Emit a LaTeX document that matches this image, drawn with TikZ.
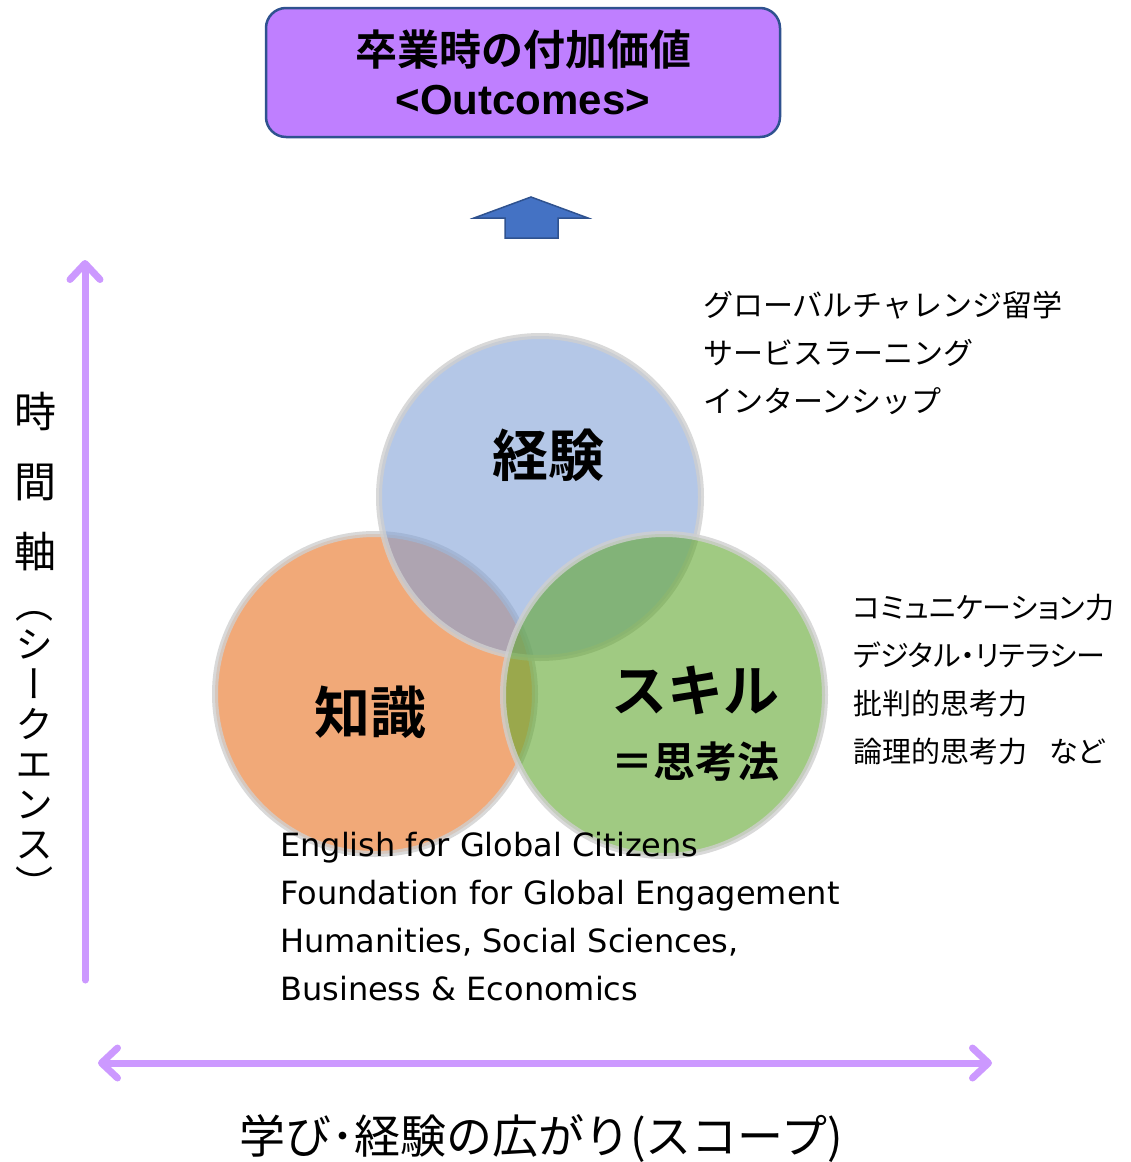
\documentclass[tikz,border=0pt]{standalone}
\usepackage{fontspec}
\usetikzlibrary{arrows.meta}
\newfontfamily\jp{Noto Sans CJK JP}[BoldFont={Noto Sans CJK JP Bold}]
\newfontfamily\jpp{Noto Sans CJK JP}[RawFeature=+palt]
\newfontfamily\jpv{Noto Sans CJK JP}[RawFeature=+vert]
\newfontfamily\en{DejaVu Sans}
\newfontfamily\arialfont{Liberation Sans}
\definecolor{outfill}{RGB}{191,127,255}
\definecolor{outedge}{RGB}{47,82,143}
\definecolor{axis}{RGB}{204,153,255}
\definecolor{uparrow}{RGB}{68,114,196}
\definecolor{expfill}{RGB}{130,162,215}
\definecolor{knowfill}{RGB}{232,112,30}
\definecolor{skillfill}{RGB}{97,167,47}
\definecolor{ringgray}{RGB}{207,207,207}
\tikzset{
    barb/.tip={Straight Barb[round, length=16pt, width=30pt]},
    axisarrow/.style={line width=7pt, draw=axis, line cap=round, -barb},
    outbox/.style={rectangle, rounded corners=20pt, fill=outfill, draw=outedge, line width=2.5pt,
        minimum width=514pt, minimum height=129pt, align=center, font=\fontsize{42}{49}\selectfont},
    ring/.style={line width=6pt, draw=ringgray, draw opacity=0.8, fill opacity=0.6},
    bigword/.style={inner sep=0pt, font=\jp\bfseries\fontsize{56}{60}\selectfont},
    listtext/.style={anchor=base west, inner sep=0pt, font=\jp\fontsize{30}{36}\selectfont},
    skilltext/.style={anchor=base west, inner sep=0pt, font=\jpp\fontsize{29}{34}\selectfont},
    coursetext/.style={anchor=base west, inner sep=0pt, font=\en\fontsize{32}{36}\selectfont},
    vtext/.style={align=center, inner sep=0pt}
}
\begin{document}
\begin{tikzpicture}[x=1pt, y=-1pt]
    \useasboundingbox (0,0) rectangle (1130,1162);
    \node[outbox] (outcome) at (523,72.5) {{\jp\bfseries 卒業時の付加価値}\\{\arialfont\bfseries <Outcomes>}};
    \filldraw[fill=uparrow, draw=outedge, line width=1.5pt] (505,238) -- (505,218) -- (474,218) -- (531,197)
        -- (588,218) -- (558,218) -- (558,238) -- cycle;

    \filldraw[ring, fill=knowfill] (375,694) circle[radius=160];
    \filldraw[ring, fill=expfill] (540,497) circle[radius=161];
    \filldraw[ring, fill=skillfill] (664,695) circle[radius=161];
    \node[bigword] (exptitle) at (548,455) {経験};
    \node[bigword] (knowtitle) at (370,712) {知識};
    \node[bigword] (skilltitle) at (695,690) {スキル};
    \node[inner sep=0pt, font=\jp\bfseries\fontsize{42}{44}\selectfont] (skillnote) at (695,762) {＝思考法};

    \foreach \t [count=\i] in {グローバルチャレンジ留学,サービスラーニング,インターンシップ}{
        \node[listtext] (exp\i) at (703,{316+48*(\i-1)}) {\t};
    }
    \foreach \t [count=\i] in {コミュニケーション力,デジタル・リテラシー,批判的思考力,論理的思考力\hspace{22pt}など}{
        \node[skilltext] (skill\i) at (853,{618+48*(\i-1)}) {\t};
    }
    \foreach \t [count=\i] in {English for Global Citizens,Foundation for Global Engagement,
        {Humanities, Social Sciences,},Business \& Economics}{
        \node[coursetext] (course\i) at (280,{856+48*(\i-1)}) {\t};
    }

    \coordinate (timestart) at (85,980);
    \coordinate (timeend) at (85,260);
    \draw[axisarrow] (timestart) -- (timeend);
    \node[vtext, font=\jpv\fontsize{42}{70}\selectfont] (timeaxis) at (35,482) {時\\間\\軸};
    \node[vtext, font=\jpv\fontsize{38}{40}\selectfont] (seqlabel) at (35,755) {（\\シ\\ー\\ク\\エ\\ン\\ス\\）};

    \coordinate (scopeleft) at (98,1063);
    \coordinate (scoperight) at (992,1063);
    \draw[axisarrow, barb-barb] (scopeleft) -- (scoperight);
    \node[font=\jp\fontsize{46}{48}\selectfont] (scopelabel) at (541,1139) {学び･経験の広がり(スコープ)};
\end{tikzpicture}
\end{document}
